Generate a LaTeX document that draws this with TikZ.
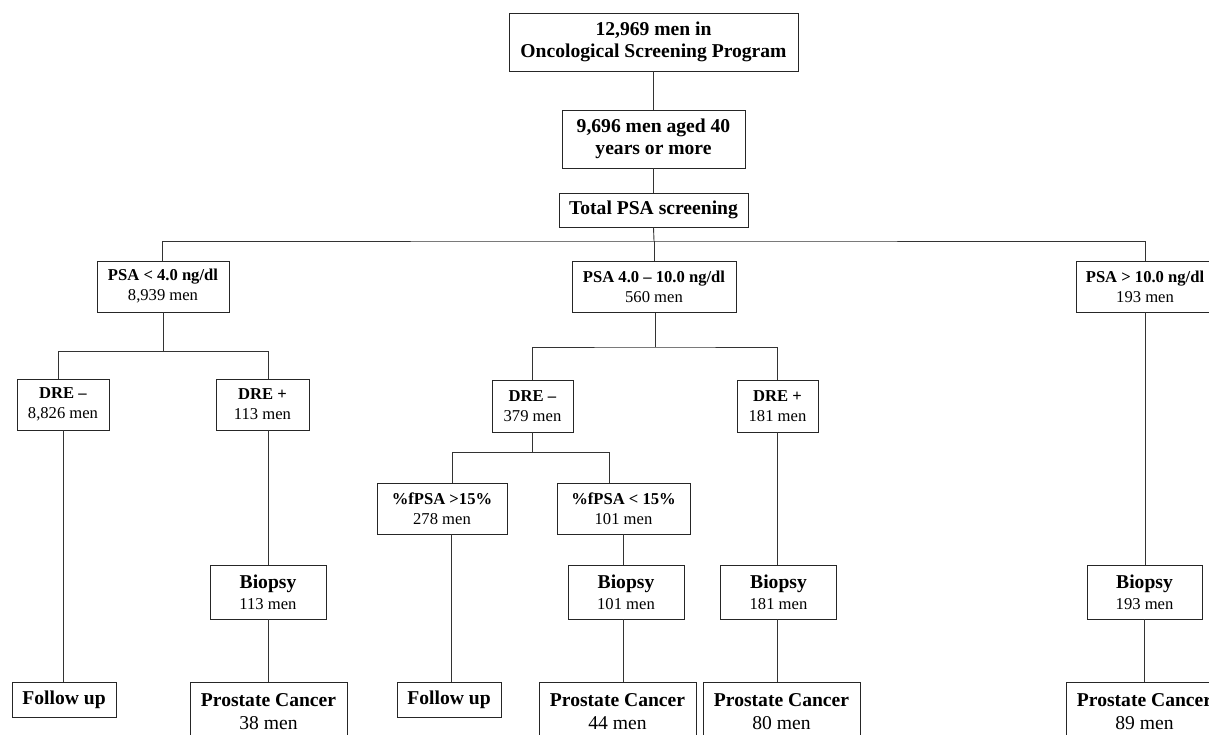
\documentclass[tikz,border=0pt]{standalone}
\usepackage{fontspec}
\setmainfont{Liberation Serif}
\newcommand{\bigf}{\fontsize{19.6}{22.5}\selectfont}
\newcommand{\smf}{\fontsize{16.6}{20}\selectfont}
\begin{document}
\begin{tikzpicture}[x=1pt,y=-1pt,
  box/.style={draw=black!85, line width=0.9pt, inner sep=0pt, align=center, text=black},
  ln/.style={draw=black!80, line width=0.9pt},
  big/.style={box, font=\bigf\bfseries},
  small/.style={box, font=\smf, minimum height=51pt},
  biop/.style={box, font=\smf, minimum width=116pt, minimum height=54pt},
  pc/.style={box, font=\bigf, anchor=north, minimum width=157pt, minimum height=58pt},
  fu/.style={box, font=\bigf\bfseries, minimum width=104pt, minimum height=35pt}]
\useasboundingbox (0,0) rectangle (1209,734);
\clip (0,0) rectangle (1209,734);

% top
\node[big, minimum width=289pt, minimum height=58pt] (n1) at (653.5,42) {12,969 men in\\Oncological Screening Program};
\node[big, minimum width=183pt, minimum height=58pt] (n2) at (653.5,139) {9,696 men aged 40\\years or more};
\node[big, minimum width=189pt, minimum height=34pt] (n3) at (653.5,210) {Total PSA screening};

% PSA level
\node[small, minimum width=132pt] (p1) at (163,286.5) {\textbf{PSA < 4.0 ng/dl}\\8,939 men};
\node[small, minimum width=164pt] (p2) at (654,287) {\textbf{PSA 4.0 – 10.0 ng/dl}\\560 men};
\node[small, minimum width=138pt] (p3) at (1145,286.5) {\textbf{PSA > 10.0 ng/dl}\\193 men};

% DRE
\node[small, minimum width=92pt] (d1) at (63,404.5) {\textbf{DRE –}\\8,826 men};
\node[small, minimum width=93pt] (d2) at (262.5,404.5) {\textbf{DRE +}\\113 men};
\node[small, minimum width=81pt, minimum height=52pt] (m1) at (532.5,406) {\textbf{DRE –}\\379 men};
\node[small, minimum width=81pt, minimum height=52pt] (m2) at (777.5,406) {\textbf{DRE +}\\181 men};

% fPSA
\node[small, minimum width=130pt] (f1) at (442,508.5) {\textbf{\%fPSA >15\%}\\278 men};
\node[small, minimum width=133pt] (f2) at (623.5,508.5) {\textbf{\%fPSA < 15\%}\\101 men};

% Biopsy
\node[biop] (b1) at (268,592) {{\bigf\bfseries Biopsy}\\[1pt]113 men};
\node[biop] (b2) at (626,592) {{\bigf\bfseries Biopsy}\\[1pt]101 men};
\node[biop] (b3) at (778.5,592) {{\bigf\bfseries Biopsy}\\[1pt]181 men};
\node[biop, minimum width=115pt] (b4) at (1144.5,592) {{\bigf\bfseries Biopsy}\\[1pt]193 men};

% Bottom
\node[fu] (fu1) at (64,699.5) {Follow up};
\node[fu] (fu2) at (449,699.5) {Follow up};
\node[pc] (c1) at (268.5,682) {\textbf{Prostate Cancer}\\38 men};
\node[pc] (c2) at (617.5,682) {\textbf{Prostate Cancer}\\44 men};
\node[pc] (c3) at (781.5,682) {\textbf{Prostate Cancer}\\80 men};
\node[pc] (c4) at (1144.5,682) {\textbf{Prostate Cancer}\\89 men};

% junction coordinates
\coordinate (h1) at (654,241);
\coordinate (j1) at (163,351);
\coordinate (j1l) at (58,351);
\coordinate (j1r) at (268,351);
\coordinate (j2) at (655,347);
\coordinate (j3) at (532.5,452);
\coordinate (j3l) at (452,452);
\coordinate (j3r) at (609,452);
\coordinate (x623) at (623,0);
\coordinate (x451) at (451,0);

% connectors
\draw[ln] (n1) -- (n2);
\draw[ln] (n2) -- (n3);
\draw[ln] (n3.south) -- (h1);
\draw[ln] (p1.north -| 162,0) |- (h1) -| (p3.north);
\draw[ln] (h1) -- (p2.north);

\draw[ln] (p1.south -| j1) -- (j1);
\draw[ln] (d1.north -| j1l) -- (j1l) -- (j1r) -- (d2.north -| j1r);
\draw[ln] (d1.south) -- (d1.south |- fu1.north);
\draw[ln] (d2.south -| b1) -- (b1.north);
\draw[ln] (b1.south) -- (b1.south |- c1.north);

\draw[ln] (p2.south -| j2) -- (j2);
\draw[ln] (m1.north -| j3) |- (j2) -| (m2.north);
\draw[ln] (m1.south) -- (j3);
\draw[ln] (f1.north -| j3l) -- (j3l) -- (j3r) -- (f2.north -| j3r);
\draw[ln] (f1.south -| x451) -- (fu2.north -| x451);
\draw[ln] (f2.south -| x623) -- (b2.north -| x623);
\draw[ln] (b2.south -| x623) -- (c2.north -| x623);
\draw[ln] (m2.south) -- (m2.south |- b3.north);
\draw[ln] (b3.south -| m2) -- (c3.north -| m2);

\draw[ln] (p3.south) -- (p3.south |- b4.north);
\draw[ln] (b4.south) -- (b4.south |- c4.north);
\end{tikzpicture}
\end{document}
